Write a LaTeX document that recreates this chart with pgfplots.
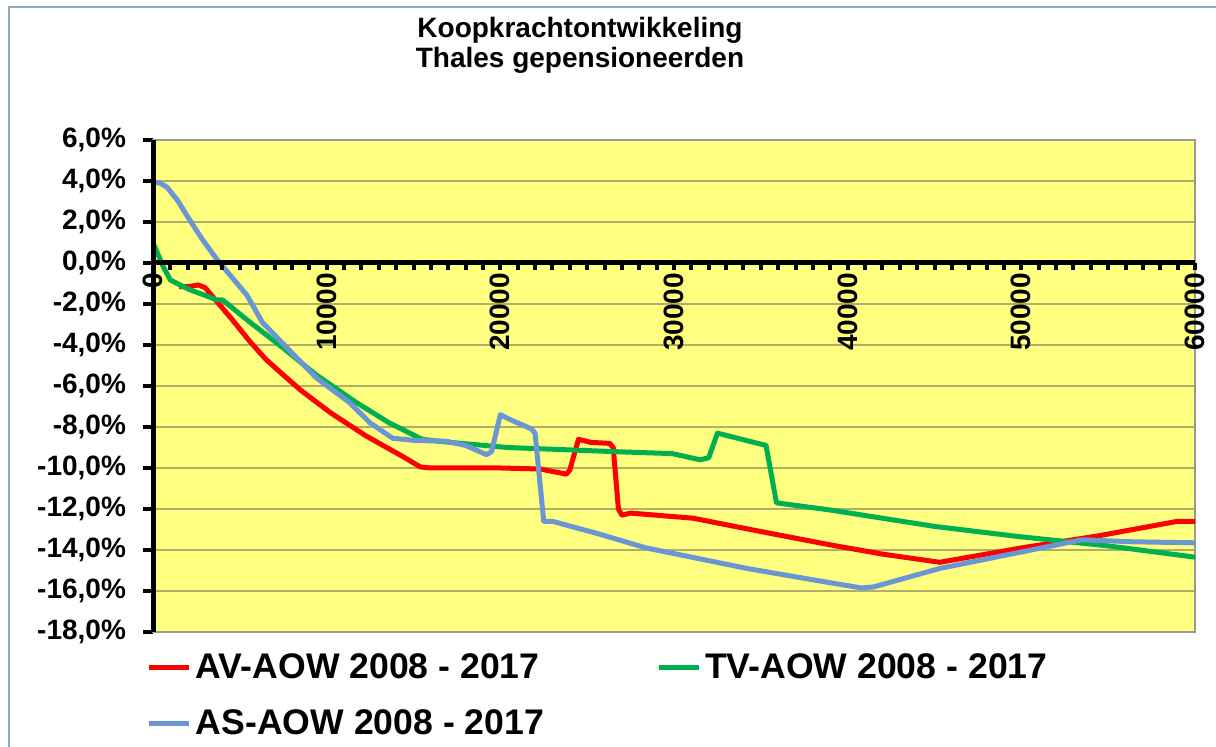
\documentclass[border=0pt]{standalone}
\usepackage{fontspec}
\setmainfont{Liberation Sans}
\usepackage{pgfplots}
\pgfplotsset{compat=1.18}
\definecolor{bgyellow}{HTML}{FFFF80}
\definecolor{gridc}{HTML}{B0AE6A}
\definecolor{framec}{HTML}{8EA9C4}
\definecolor{avred}{HTML}{FF0000}
\definecolor{tvgreen}{HTML}{00B050}
\definecolor{asblue}{HTML}{6A96D4}
\begin{document}
\begin{tikzpicture}
\path[use as bounding box] (0,0) rectangle (608pt,373.5pt);
\draw[framec, line width=1pt] (4.5pt,-1pt) -- (4.5pt,370pt) -- (610pt,370pt);
\node[font=\fontsize{14}{15}\selectfont\bfseries, align=center] at (290pt,351pt) {Koopkrachtontwikkeling\\Thales gepensioneerden};
\begin{axis}[
  at={(76.5pt,57.5pt)}, anchor=south west, scale only axis,
  width=521pt, height=246pt,
  xmin=0, xmax=60000, ymin=-18, ymax=6,
  axis background/.style={fill=bgyellow},
  axis line style={draw=gray!80, line width=0.8pt},
  xtick=\empty,
  ytick={-18,-16,-14,-12,-10,-8,-6,-4,-2,0,2,4,6},
  yticklabels={{-18,0\%},{-16,0\%},{-14,0\%},{-12,0\%},{-10,0\%},{-8,0\%},{-6,0\%},{-4,0\%},{-2,0\%},{0,0\%},{2,0\%},{4,0\%},{6,0\%}},
  ytick pos=left, ytick align=outside, major tick length=5pt,
  every tick/.style={black, line width=2pt},
  ymajorgrids, grid style={gridc, line width=0.9pt},
  yticklabel style={font=\fontsize{14}{14}\selectfont\bfseries, xshift=-5pt},
  clip=false,
  legend style={draw=none, fill=none, at={(axis description cs:-0.012,-0.026)}, anchor=north west,
    font=\fontsize{17.8}{17.8}\selectfont\bfseries, row sep=10.5pt,
    /tikz/every even column/.append style={column sep=54pt}},
  legend columns=2,
  legend image code/.code={\draw[#1] (0pt,0pt) -- (20pt,0pt);},
  legend cell align=left,
  /pgfplots/every legend entry/.append style={inner xsep=0.5pt},
]
\addplot[avred, line width=2.5pt, line join=round] coordinates {
(1500,-1.15) (2100,-1.15) (2600,-1.07) (3000,-1.2) (3700,-1.9) (4500,-2.7) (5600,-3.85)
(6500,-4.7) (7500,-5.46) (8500,-6.2) (9400,-6.78) (10300,-7.35) (11300,-7.9) (12200,-8.4)
(13200,-8.88) (14300,-9.4) (15400,-9.95) (16000,-10.0) (20000,-10.0) (22300,-10.05)
(23800,-10.3) (24000,-10.1) (24500,-8.6) (25200,-8.75) (26300,-8.8) (26500,-9.0)
(26800,-12.0) (27000,-12.3) (27500,-12.2) (31100,-12.45) (35000,-13.1) (39000,-13.75)
(42000,-14.2) (45300,-14.6) (50000,-13.9) (54500,-13.3) (59000,-12.6) (60000,-12.6)
};
\addlegendentry{AV-AOW 2008 - 2017}
\addplot[tvgreen, line width=2.5pt, line join=round] coordinates {
(0,1.0) (600,-0.2) (1000,-0.83) (2100,-1.3) (3700,-1.8) (4000,-1.8) (5600,-2.9)
(7500,-4.15) (9400,-5.46) (11700,-6.8) (13600,-7.8) (15500,-8.6) (17100,-8.75)
(20400,-9.0) (26500,-9.2) (29900,-9.3) (31500,-9.6) (32000,-9.5) (32500,-8.3)
(35300,-8.9) (35900,-11.7) (39000,-12.05) (45000,-12.85) (49900,-13.35) (55000,-13.8)
(60000,-14.35)
};
\addlegendentry{TV-AOW 2008 - 2017}
\addplot[asblue, line width=2.5pt, line join=round] coordinates {
(0,3.95) (400,3.9) (800,3.7) (1400,3.07) (2000,2.25) (2800,1.2) (3700,0.15) (5400,-1.56)
(6300,-2.9) (7100,-3.6) (7900,-4.3) (9400,-5.6) (11300,-6.8) (12500,-7.8) (13800,-8.55)
(15000,-8.65) (16900,-8.7) (18000,-8.9) (19200,-9.35) (19500,-9.2) (20000,-7.4)
(20600,-7.65) (21800,-8.1) (22000,-8.3) (22500,-12.6) (23000,-12.6) (25600,-13.2)
(28400,-13.9) (34200,-14.9) (39000,-15.6) (40800,-15.85) (41500,-15.8) (45300,-14.9)
(53500,-13.5) (56400,-13.6) (60000,-13.65)
};
\addlegendentry{AS-AOW 2008 - 2017}
\draw[black, line width=2.5pt] (rel axis cs:0,0) -- (rel axis cs:0,1);
\end{axis}
\begin{axis}[
  at={(76.5pt,57.5pt)}, anchor=south west, scale only axis,
  width=521pt, height=246pt,
  xmin=0, xmax=60000, ymin=-18, ymax=6,
  axis x line=middle, axis y line=none,
  axis line style={black, line width=2.5pt, -},
  scaled x ticks=false,
  xtick={0,10000,20000,30000,40000,50000,60000},
  xticklabels={0,10000,20000,30000,40000,50000,60000},
  minor xtick={1000,2000,...,59000},
  xtick align=outside,
  major tick length=3.5pt, minor tick length=3.5pt,
  every tick/.style={black, line width=2pt},
  xticklabel shift=-2pt,
  xticklabel style={rotate=90, anchor=east, font=\fontsize{14}{14}\selectfont\bfseries},
]
\end{axis}
\end{tikzpicture}
\end{document}
